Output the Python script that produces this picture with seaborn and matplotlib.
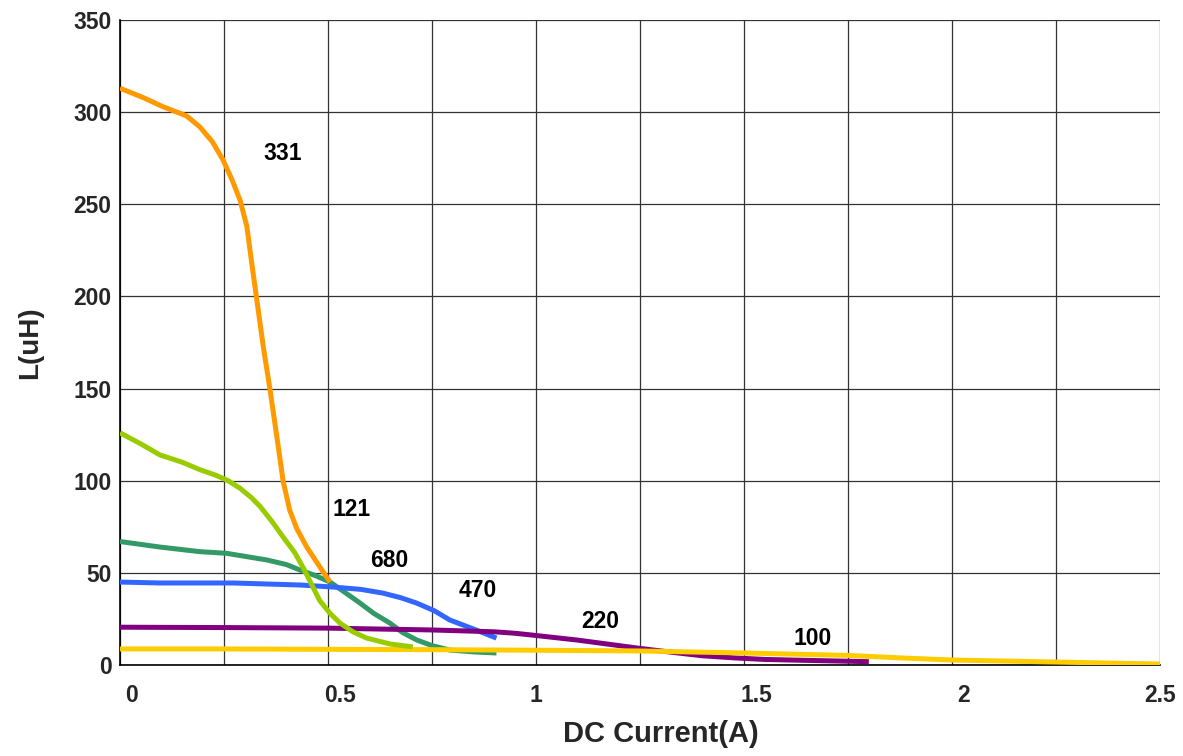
import matplotlib
matplotlib.use('Agg')
import matplotlib.pyplot as plt
import matplotlib.transforms as mtransforms
import numpy as np
import pandas as pd
import seaborn as sns

# inductance vs DC current, one curve per part code
x_331 = [0, 0.055, 0.103, 0.16, 0.192, 0.222, 0.248, 0.27, 0.289, 0.305, 0.318, 0.329, 0.345,
         0.361, 0.377, 0.392, 0.408, 0.425, 0.449, 0.481, 0.505]
y_331 = [313, 308, 303, 298, 292, 284, 274, 263, 252, 238, 216, 198, 172,
         149, 124, 100, 84, 74, 64, 53, 45]

x_121 = [0, 0.05, 0.096, 0.15, 0.192, 0.23, 0.26, 0.288, 0.315, 0.337, 0.365, 0.392, 0.42,
         0.44, 0.46, 0.48, 0.505, 0.529, 0.56, 0.593, 0.649, 0.704]
y_121 = [126, 120, 114, 110, 106, 103, 100, 96, 91, 86, 78, 69.5, 61,
         53, 44, 35, 28, 22.7, 18, 14.6, 11.4, 9.8]

x_680 = [0, 0.096, 0.192, 0.256, 0.353, 0.4, 0.433, 0.47, 0.505, 0.54, 0.577, 0.61, 0.649,
         0.68, 0.713, 0.75, 0.793, 0.85, 0.905]
y_680 = [67, 64, 61.5, 60.6, 57, 54.5, 51.5, 48.5, 45, 39.5, 33.6, 28, 22.7,
         17.5, 13.6, 10.5, 8.1, 7.1, 6.5]

x_470 = [0, 0.096, 0.272, 0.433, 0.512, 0.58, 0.632, 0.675, 0.713, 0.755, 0.793, 0.85, 0.905]
y_470 = [45, 44.5, 44.5, 43.4, 42.3, 41, 39, 36.5, 33.6, 29.5, 24.4, 19.5, 14.6]

x_220 = [0, 0.25, 0.5, 0.75, 0.9, 0.95, 1.0, 1.1, 1.25, 1.33, 1.4, 1.48, 1.55, 1.65, 1.8]
y_220 = [20.5, 20.3, 20, 19, 18, 17.2, 16, 13.5, 9, 6.8, 5, 3.8, 3, 2.5, 1.8]

x_100 = [0, 0.25, 0.5, 0.75, 1.0, 1.25, 1.5, 1.635, 1.75, 1.88, 2.0, 2.25, 2.5]
y_100 = [8.7, 8.7, 8.5, 8.3, 8.0, 7.6, 6.5, 5.8, 5.2, 3.8, 2.7, 1.6, 0.5]

x_ticklabels = ['0', '0.5', '1', '1.5', '2', '2.5']

series = {'680': (x_680, y_680), '470': (x_470, y_470), '220': (x_220, y_220),
          '100': (x_100, y_100), '121': (x_121, y_121), '331': (x_331, y_331)}
colors = {'331': '#FF9900', '121': '#99CC00', '680': '#339966',
          '470': '#3366FF', '220': '#800080', '100': '#FFCC00'}
# label positions (data coords, left / baseline)
label_pos = {'331': (0.344, 274), '121': (0.512, 81), '680': (0.601, 53),
             '470': (0.815, 37), '220': (1.108, 20), '100': (1.618, 10.9)}

rows = []
for name, (xs, ys) in series.items():
    for a, b in zip(xs, ys):
        rows.append((name, a, b))
df = pd.DataFrame(rows, columns=['part', 'I', 'L'])

sns.set_style('white')
plt.rcParams['font.family'] = ['Liberation Sans', 'DejaVu Sans']

fig = plt.figure(figsize=(11.83, 7.56), dpi=100)
ax = fig.add_axes([0.1014, 0.1204, 0.8792, 0.8531])

sns.lineplot(data=df, x='I', y='L', hue='part', palette=colors, sort=False,
             estimator=None, linewidth=3.6, legend=False, ax=ax, zorder=3)
for ln in ax.lines:
    ln.set_solid_joinstyle('round')
    ln.set_solid_capstyle('butt')

for name, (tx, ty) in label_pos.items():
    ax.text(tx, ty, name, fontsize=16.5, fontweight='bold', color='black',
            ha='left', va='baseline')

ax.set_xlim(0, 2.5)
ax.set_ylim(0, 350)
ax.set_xticks(np.arange(0, 2.51, 0.5))
ax.set_xticklabels(x_ticklabels)
ax.set_xticks(np.arange(0, 2.51, 0.25), minor=True)
ax.set_yticks(np.arange(0, 351, 50))
ax.grid(True, which='both', color='#333333', linewidth=0.9)
ax.set_axisbelow(True)
ax.tick_params(axis='both', which='both', length=0, labelsize=16.5)
ax.tick_params(axis='x', pad=14)
ax.tick_params(axis='y', pad=6)
for lab in ax.get_xticklabels() + ax.get_yticklabels():
    lab.set_fontweight('bold')

# the original's x labels sit a little right of their gridlines
shift = mtransforms.ScaledTranslation(12 / 100, 0, fig.dpi_scale_trans)
for lab in ax.get_xticklabels():
    if lab.get_text() not in ('1', '2.5'):
        lab.set_transform(lab.get_transform() + shift)

for s in ['top', 'right']:
    ax.spines[s].set_visible(False)
for s in ['left', 'bottom']:
    ax.spines[s].set_color('black')
    ax.spines[s].set_linewidth(1.2)

ax.set_xlabel('DC Current(A)', fontsize=21, fontweight='bold', labelpad=12)
ax.xaxis.set_label_coords(0.52, -0.085)
ax.set_ylabel('L(uH)', fontsize=20, fontweight='bold', labelpad=22)

fig.savefig('out.png', dpi=100)
